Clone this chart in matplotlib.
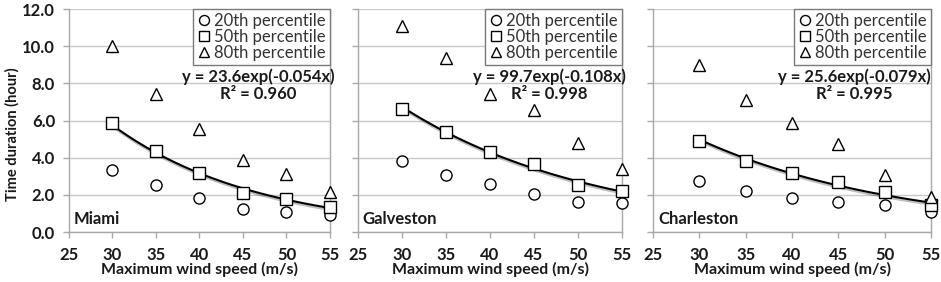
import numpy as np
import matplotlib
matplotlib.use('Agg')
import matplotlib.pyplot as plt
import matplotlib.patheffects as pe

plt.rcParams['font.family'] = ['Lato', 'DejaVu Sans']

wind_speed = [30, 35, 40, 45, 50, 55]
cities = ['Miami', 'Galveston', 'Charleston']

p20 = {
    'Miami': [3.33, 2.53, 1.81, 1.24, 1.08, 0.91],
    'Galveston': [3.80, 3.08, 2.56, 2.04, 1.61, 1.58],
    'Charleston': [2.74, 2.22, 1.84, 1.60, 1.45, 1.06],
}
p50 = {
    'Miami': [5.88, 4.37, 3.16, 2.11, 1.77, 1.36],
    'Galveston': [6.63, 5.39, 4.32, 3.64, 2.53, 2.22],
    'Charleston': [4.91, 3.83, 3.16, 2.67, 2.13, 1.45],
}
p80 = {
    'Miami': [10.0, 7.45, 5.56, 3.87, 3.12, 2.17],
    'Galveston': [11.07, 9.39, 7.42, 6.56, 4.77, 3.39],
    'Charleston': [8.98, 7.1, 5.88, 4.73, 3.06, 1.9],
}
equations = {
    'Miami': ('y = 23.6exp(-0.054x)', 'R\u00b2 = 0.960'),
    'Galveston': ('y = 99.7exp(-0.108x)', 'R\u00b2 = 0.998'),
    'Charleston': ('y = 25.6exp(-0.079x)', 'R\u00b2 = 0.995'),
}

# axes boxes in figure fractions [left, bottom, width, height]
BOXES = [
    [69 / 941, 0.177, 261 / 941, 0.791],
    [358 / 941, 0.177, 264 / 941, 0.791],
    [653 / 941, 0.177, 278 / 941, 0.791],
]

GRID = '#c8c8c8'
SPINE = '#a8a8a8'
TXT = '#1a1a1a'

fig = plt.figure(figsize=(9.41, 2.82), dpi=100)

for idx, city in enumerate(cities):
    ax = fig.add_axes(BOXES[idx])
    mk = dict(linestyle='none', markerfacecolor='white', clip_on=False,
              markeredgecolor='black', markeredgewidth=1.0, zorder=4)
    h20, = ax.plot(wind_speed, p20[city], marker='o', ms=8, **mk)
    h50, = ax.plot(wind_speed, p50[city], marker='s', ms=8, **mk)
    h80, = ax.plot(wind_speed, p80[city], marker='^', ms=8, **mk)

    # exponential trendline through the 50th percentile
    x = np.array(wind_speed, dtype=float)
    b, a = np.polyfit(x, np.log(p50[city]), 1)
    xs = np.linspace(x[0], x[-1], 100)
    ax.plot(xs, np.exp(a) * np.exp(b * xs), color='black', lw=1.5, zorder=3,
            path_effects=[pe.SimpleLineShadow(offset=(0.5, -1.5), alpha=0.25),
                          pe.Normal()])

    ax.set_xlim(25, 55)
    ax.set_ylim(0, 12)
    ax.set_xticks(np.arange(25, 56, 5))
    ax.set_yticks(np.arange(0, 12.1, 2))
    ax.yaxis.set_major_formatter(matplotlib.ticker.FormatStrFormatter('%.1f'))
    ax.grid(axis='y', color=GRID, lw=1.0)
    ax.set_axisbelow(True)
    for s in ax.spines.values():
        s.set_color(SPINE)
        s.set_linewidth(1.0)
    ax.spines['top'].set_visible(False)
    ax.tick_params(axis='both', colors=SPINE, length=4, width=1,
                   labelcolor=TXT, labelsize=12)
    ax.tick_params(axis='x', pad=7)
    ax.tick_params(axis='y', pad=6)
    for lab in ax.get_xticklabels() + ax.get_yticklabels():
        lab.set_fontweight('bold')
    if idx > 0:
        ax.tick_params(axis='y', labelleft=False)

    ax.set_xlabel('Maximum wind speed (m/s)', fontsize=11.5, fontweight='bold',
                  color=TXT, labelpad=-1)
    if idx == 0:
        ax.set_ylabel('Time duration (hour)', fontsize=10.5, fontweight='bold',
                      color=TXT)
        ax.yaxis.set_label_coords(-0.19, 0.44)

    leg = ax.legend([h20, h50, h80],
                    ['20th percentile', '50th percentile', '80th percentile'],
                    loc='upper right', borderaxespad=0, fancybox=False,
                    framealpha=1, edgecolor='#7a7a7a', fontsize=12,
                    handlelength=0.8, handletextpad=0.2, labelspacing=0.0,
                    borderpad=0.25, markerscale=0.9,
                    labelcolor='#333333')
    leg.get_frame().set_linewidth(1.0)
    leg.set_zorder(5)

    eq, r2 = equations[city]
    ax.text(0.725, 0.695, eq, transform=ax.transAxes, ha='center', va='center',
            fontsize=12, fontweight='bold', color=TXT)
    ax.text(0.725, 0.62, r2, transform=ax.transAxes, ha='center', va='center',
            fontsize=12, fontweight='bold', color=TXT)
    ax.text(0.018, 0.058, city, transform=ax.transAxes, ha='left', va='center',
            fontsize=12, fontweight='bold', color=TXT)

fig.savefig('out.png', dpi=100)
